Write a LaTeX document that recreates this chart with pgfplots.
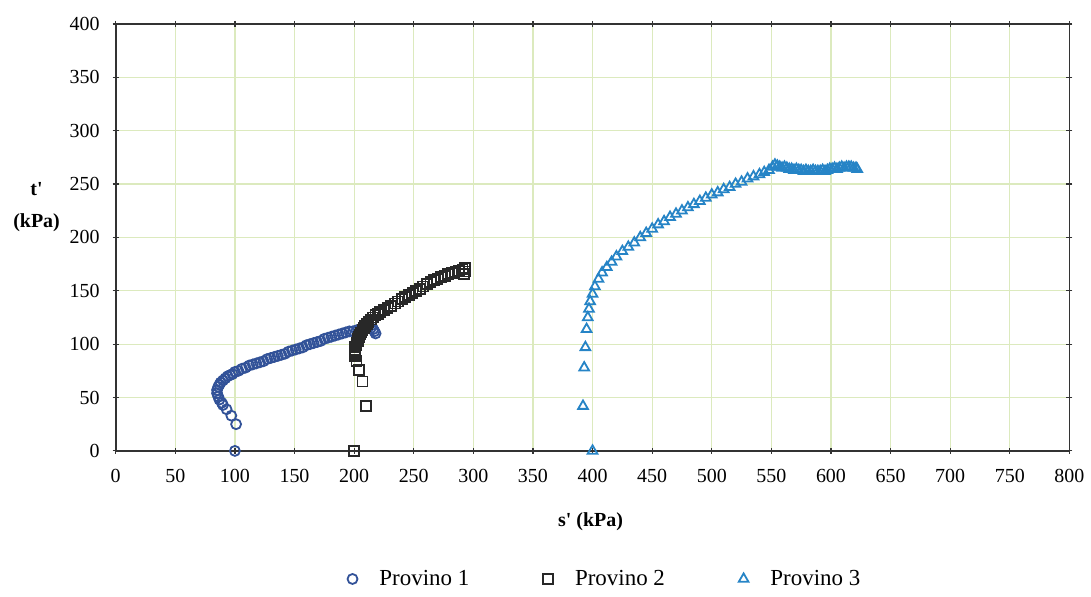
\documentclass[border=0pt]{standalone}
\usepackage{pgfplots}
\pgfplotsset{compat=1.18}
\usepackage{fontspec}
\setmainfont{Liberation Serif}
\definecolor{gridc}{RGB}{220,234,190}
\definecolor{pone}{RGB}{50,82,152}
\definecolor{ptwo}{RGB}{40,40,40}
\definecolor{pthree}{RGB}{38,132,198}
\begin{document}
\begin{tikzpicture}
\begin{axis}[
  scale only axis,
  width=478pt, height=214pt,
  xmin=0, xmax=800, ymin=0, ymax=400,
  xtick={0,50,...,800}, ytick={0,50,...,400},
  grid=major,
  major grid style={color=gridc, line width=0.6pt},
  axis line style={color=black!80, line width=0.9pt},
  tick style={color=black!80, line width=0.6pt},
  tick align=center,
  major tick length=3pt,
  /pgf/number format/assume math mode=true,
  /pgf/number format/set thousands separator={},
  ticklabel style={font=\fontsize{10}{12}\selectfont},
  xticklabel style={yshift=-4pt},
  yticklabel style={xshift=-3pt},
  clip=false,
  legend columns=3,
  legend style={draw=none, fill=none, font=\fontsize{11.5}{13}\selectfont,
    at={(axis description cs:0.514,-0.30)}, anchor=center,
    /tikz/every odd column/.append style={column sep=9pt},
    /tikz/every even column/.append style={column sep=35pt}},
  legend cell align=left,
]
\addplot[only marks, mark=o, mark size=2.5pt, color=pone, line width=0.9pt] coordinates {
(100,0)
(101,25)(97,33)(93,39)(90,43)
(89,45)(87,48)(86,51)(85,54)(85,57)(86,60)(87,62)(88,64)(90,66)(92,68)(94,70)(96,71)(98,72)(100,74)(103,75)(106,77)(109,78)(112,80)(115,81)(118,82)(121,83)(124,84)(127,86)(130,87)(133,88)(136,89)(139,90)(142,91)(145,93)(148,94)(151,95)(154,96)(157,97)(160,99)(163,100)(166,101)(169,102)(172,103)(175,105)(178,106)(181,107)(184,108)(187,109)(190,110)(193,111)(196,112)(199,112)(202,113)(205,114)(208,114)(211,115)(214,115)(216,114)(217,112)(218,110)
};
\addlegendentry{Provino 1}
\addplot[only marks, mark=square, mark size=2.5pt, color=ptwo, line width=0.9pt] coordinates {
(200,0)
(210,42)(207,65)(204,76)(202,84)
(201,89)(201,91)(201,93)(201,95)(201,97)(202,99)(202,101)(203,103)(203,105)(204,107)(205,109)(206,111)(207,113)(208,115)(209,117)(211,119)(212,121)(214,123)(216,125)(218,127)(220,128)(222,130)(225,132)(228,134)(231,136)(234,138)(237,140)(240,142)(243,144)(246,146)(249,148)(252,150)(255,152)(258,154)(261,156)(264,158)(267,160)(270,161)(273,163)(276,164)(279,166)(282,167)(285,168)(288,169)(291,170)(293,171)(293,168)(292,166)
};
\addlegendentry{Provino 2}
\addplot[only marks, mark=triangle, mark size=2.8pt, color=pthree, line width=0.9pt] coordinates {
(400,0)
(392,42)(393,78)(394,97)(395,114)(396,125)(397,133)(398,140)(400,147)(402,154)(405,161)(408,167)(412,172)(416,177)(420,182)(425,187)(430,191)(435,195)(440,200)(445,204)(450,208)(455,212)(460,215)(465,219)(470,222)(475,225)(480,228)(485,231)(490,234)(495,237)(500,240)(505,242)(510,245)(515,247)(520,250)(525,252)(530,255)(535,257)(540,259)(544,261)(548,263)(551,266)(553,268)(555,267)(557,266)(559,265)(561,266)(563,265)(565,264)(567,264)(569,263)(571,264)(573,263)(575,263)(577,262)(579,263)(581,262)(583,262)(585,263)(587,262)(589,262)(591,262)(593,263)(595,262)(597,263)(599,264)(601,264)(603,265)(605,264)(607,265)(609,266)(611,265)(613,266)(615,266)(617,266)(619,265)(621,265)(622,264)
};
\addlegendentry{Provino 3}
\node[font=\bfseries\fontsize{10}{12}\selectfont] at (axis description cs:0.498,-0.165) {s\textquotesingle{} (kPa)};
\node[font=\bfseries\fontsize{10}{12}\selectfont, align=center] at (axis description cs:-0.083,0.57) {t\textquotesingle\\[4pt](kPa)};
\coordinate (bl) at (axis description cs:-0.1213,-0.341);
\coordinate (tr) at (axis description cs:1.0199,1.056);
\end{axis}
\path (bl) rectangle (tr);
\end{tikzpicture}
\end{document}
